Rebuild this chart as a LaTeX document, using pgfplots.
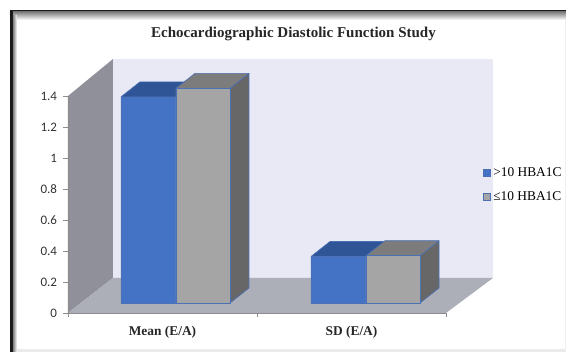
\documentclass[border=0pt]{standalone}
\usepackage{pgfplots}
\pgfplotsset{compat=1.18}
\usepackage{fontspec}
\setmainfont{Liberation Serif}
\newfontfamily\tickfont{Carlito}
\definecolor{blueFront}{HTML}{4472C4}
\definecolor{blueTop}{HTML}{2F5597}
\definecolor{greyFront}{HTML}{A5A5A5}
\definecolor{greyTop}{HTML}{7C7C7C}
\definecolor{greySide}{HTML}{676767}
\definecolor{barEdge}{HTML}{4A70B5}
\definecolor{backWall}{HTML}{E8E9F5}
\definecolor{sideWall}{HTML}{90909A}
\definecolor{floorTone}{HTML}{ADAFB8}
\definecolor{axisTone}{HTML}{8C8C8C}

% Box with front face from the floor level to value #3, optional right side face
\newcommand{\boxtop}[5]{%
  \pgfmathsetmacro{\ftop}{#3+0.0645}%
  \pgfmathsetmacro{\btop}{#3+0.0645+0.0968}%
  \pgfmathsetmacro{\xa}{#1+19}%
  \pgfmathsetmacro{\xb}{#2+19}%
  \addplot[forget plot,no marks,sharp plot,draw=barEdge,line width=0.6pt,fill=#4,line join=round]
    coordinates {(#1,\ftop) (#2,\ftop) (\xb,\btop) (\xa,\btop) (#1,\ftop)};
  \addplot[forget plot,no marks,sharp plot,draw=barEdge,line width=0.6pt,fill=#5,line join=round]
    coordinates {(#1,0.0645) (#2,0.0645) (#2,\ftop) (#1,\ftop) (#1,0.0645)};
}
\newcommand{\boxside}[3]{%
  \pgfmathsetmacro{\ftop}{#2+0.0645}%
  \pgfmathsetmacro{\btop}{#2+0.0645+0.0968}%
  \pgfmathsetmacro{\xb}{#1+19}%
  \addplot[forget plot,no marks,sharp plot,draw=barEdge,line width=0.6pt,fill=#3,line join=round]
    coordinates {(#1,0.0645) (\xb,0.1613) (\xb,\btop) (#1,\ftop) (#1,0.0645)};
}

\begin{document}
\begin{tikzpicture}
% Page frame and the 3D chart room, in a pixel grid with its origin at the top left
\begin{scope}[x=1pt,y=-1pt,shift={(-68pt,313pt)}]
  \path[use as bounding box] (0,0) rectangle (566,352);
  \fill[black!90] (10,10) rectangle (566,12);
  \shade[top color=black!50,bottom color=white] (10,12) rectangle (566,20);
  \fill[black!90] (10,10) rectangle (13,352);
  \shade[left color=black!50,right color=white] (13,16) rectangle (17,352);
  \fill[black!8] (17,349) rectangle (566,352);
  \fill[black!6] (564.5,20) rectangle (566,352);
  \fill[backWall] (113,59) rectangle (493,278);
  \fill[sideWall] (68,313) -- (68,96) -- (113,59) -- (113,278) -- cycle;
  \fill[floorTone] (68,313) -- (113,278) -- (493,278) -- (446,313) -- cycle;
  \node[font=\bfseries\fontsize{15}{17}\selectfont,text=black!85] at (293.5,33.5) {Echocardiographic Diastolic Function Study};
\end{scope}
\begin{axis}[
  scale only axis,
  width=378pt, height=217pt,
  xmin=68, xmax=446, ymin=0, ymax=1.4,
  clip=false,
  axis x line=bottom, axis y line=left,
  axis line style={-,draw=axisTone,line width=0.9pt},
  tick style={draw=axisTone,line width=0.8pt},
  tick align=outside,
  major tick length=4.5pt,
  xtick={68,257,446}, xticklabels={,,},
  extra x ticks={162.5,351.5},
  extra x tick labels={Mean (E/A),SD (E/A)},
  extra x tick style={major tick length=0pt,tick label style={font=\bfseries\fontsize{13.4}{15}\selectfont,text=black!85,yshift=-9.5pt}},
  ytick={0,0.2,0.4,0.6,0.8,1,1.2,1.4},
  yticklabels={0,0.2,0.4,0.6,0.8,1,1.2,1.4},
  y tick label style={font=\tickfont\fontsize{13}{15}\selectfont,text=black!80,xshift=-3pt},
  legend style={at={(axis cs:483,0.826)},anchor=west,draw=none,fill=none,
    font=\fontsize{13.4}{15}\selectfont,row sep=12pt,inner sep=0pt,
    nodes={inner sep=0.5pt}},
  legend cell align=left,
  legend image code/.code={\draw[#1] (0pt,-3.5pt) rectangle (7pt,3.5pt);},
]
\addlegendimage{fill=blueFront,draw=barEdge,line width=0.6pt}
\addlegendentry{\hspace{2pt}>10 HBA1C}
\addlegendimage{fill=greyFront,draw=barEdge,line width=0.6pt}
\addlegendentry{\hspace{2pt}≤10 HBA1C}
% Mean (E/A): >10 HBA1C 1.33, <=10 HBA1C 1.385
\boxtop{121}{176}{1.33}{blueTop}{blueFront}
\boxside{230}{1.385}{greySide}
\boxtop{176}{230}{1.385}{greyTop}{greyFront}
% SD (E/A): >10 HBA1C 0.30, <=10 HBA1C 0.305
\boxtop{311}{366}{0.30}{blueTop}{blueFront}
\boxside{420}{0.305}{greySide}
\boxtop{366}{420}{0.305}{greyTop}{greyFront}
\end{axis}
\end{tikzpicture}
\end{document}
